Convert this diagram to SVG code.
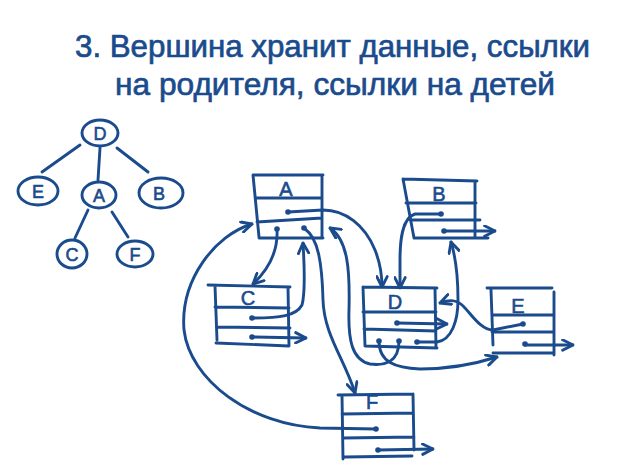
<svg xmlns="http://www.w3.org/2000/svg" width="624" height="469" viewBox="0 0 624 469">
<defs>
<marker id="arr" viewBox="0 0 10 10" refX="9" refY="5" markerWidth="13" markerHeight="13" markerUnits="userSpaceOnUse" orient="auto">
<path d="M1,1 L9,5 L1,9" fill="none" stroke="#1a4b8d" stroke-width="2.2" stroke-linecap="round" stroke-linejoin="round"/>
</marker>
<style>
.ln{fill:none;stroke:#1a4b8d;stroke-width:2.9;stroke-linecap:round;stroke-linejoin:round}
.c{fill:none;stroke:#1a4b8d;stroke-width:2.9;stroke-linecap:round;stroke-linejoin:round;marker-end:url(#arr)}
.dot{fill:#1a4b8d}
.t{font-family:"Liberation Sans","DejaVu Sans",sans-serif;fill:#1a4b8d;stroke:#1a4b8d;stroke-width:0.7}
.lbl{font-family:"Liberation Sans","DejaVu Sans",sans-serif;fill:#1a4b8d;stroke:#1a4b8d;stroke-width:0.6;font-size:20px;text-anchor:middle}
.tl{font-family:"Liberation Sans","DejaVu Sans",sans-serif;fill:#1a4b8d;stroke:#1a4b8d;stroke-width:0.6;font-size:18px;text-anchor:middle}
</style>
</defs>
<rect width="624" height="469" fill="#ffffff"/>
<g id="title">
<text class="t" x="75" y="57" font-size="32" textLength="515" lengthAdjust="spacingAndGlyphs">3. Вершина хранит данные, ссылки</text>
<text class="t" x="115" y="95" font-size="32" textLength="440" lengthAdjust="spacingAndGlyphs">на родителя, ссылки на детей</text>
</g>
<g id="tree">
<g id="tree-edges">
<path class="ln" d="M80,145 L42,172"/>
<path class="ln" d="M100,148 L98,180"/>
<path class="ln" d="M117,148 L148,172"/>
<path class="ln" d="M88,210 L75,238"/>
<path class="ln" d="M112,212 L128,237"/>
</g>
<g id="tD"><ellipse class="ln" cx="100" cy="133" rx="18" ry="13"/><text class="tl" x="100" y="140">D</text></g>
<g id="tE"><ellipse class="ln" cx="38" cy="191" rx="20" ry="14"/><text class="tl" x="38" y="198">E</text></g>
<g id="tA"><ellipse class="ln" cx="99" cy="195" rx="17" ry="13"/><text class="tl" x="99" y="202">A</text></g>
<g id="tB"><ellipse class="ln" cx="161" cy="193" rx="22" ry="15"/><text class="tl" x="159" y="200">B</text></g>
<g id="tC"><ellipse class="ln" cx="72" cy="254" rx="15" ry="14"/><text class="tl" x="72" y="261">C</text></g>
<g id="tF"><ellipse class="ln" cx="135" cy="254" rx="18" ry="13"/><text class="tl" x="135" y="261">F</text></g>
</g>
<g id="A">
<path class="ln" d="M253,175 L323,175 M253,175 L259,237 M322,175 L322,238 M259,238 L323,238 M255,198 L322,198 M257,222 L322,218"/>
<text class="lbl" x="286" y="196">A</text>
<circle class="dot" cx="288" cy="212" r="2.8"/><circle class="dot" cx="277" cy="229" r="2.8"/><circle class="dot" cx="304" cy="228" r="2.8"/>
</g>
<g id="B">
<path class="ln" d="M403,179 L477,181 M403,179 L414,238 M475,181 L475,238 M414,238 L488,238 M406,203 L476,203 M410,220 L480,220"/>
<text class="lbl" x="439" y="201">B</text>
<circle class="dot" cx="441" cy="214" r="2.8"/><circle class="dot" cx="444" cy="231" r="2.8"/>
</g>
<g id="C">
<path class="ln" d="M208,285 L290,287 M215,286 L217,340 M288,287 L289,346 M216,343 L289,346 M215,307 L289,308 M217,327 L290,328"/>
<text class="lbl" x="248" y="305">C</text>
<circle class="dot" cx="252" cy="318" r="2.8"/><circle class="dot" cx="252" cy="337" r="2.8"/>
</g>
<g id="D">
<path class="ln" d="M363,287 L437,288 M363,287 L365,346 M435,288 L436,348 M365,346 L437,348 M363,312 L436,312 M364,329 L436,331"/>
<text class="lbl" x="395" y="309">D</text>
<circle class="dot" cx="397" cy="323" r="2.8"/><circle class="dot" cx="379" cy="341" r="2.8"/><circle class="dot" cx="399" cy="341" r="2.8"/><circle class="dot" cx="417" cy="342" r="2.8"/>
</g>
<g id="E">
<path class="ln" d="M487,288 L552,288 M491,290 L493,345 M554,292 L554,355 M493,353 L553,353 M492,315 L554,315 M492,332 L554,332"/>
<text class="lbl" x="518" y="313">E</text>
<circle class="dot" cx="523" cy="324" r="2.8"/><circle class="dot" cx="525" cy="344" r="2.8"/>
</g>
<g id="F">
<path class="ln" d="M338,395 L413,394 M342,395 L343,459 M413,394 L414,450 M345,457 L412,456 M342,414 L413,413 M343,438 L414,437"/>
<text class="lbl" x="372" y="409">F</text>
<circle class="dot" cx="376" cy="429" r="2.8"/><circle class="dot" cx="378" cy="450" r="2.8"/>
</g>
<g id="connectors">
<path class="c" d="M288,212 L323,210 C345,210 365,225 375,250 C381,265 382,278 382,287"/>
<path class="c" d="M277,230 C278,250 270,268 253,284"/>
<path class="c" d="M305,229 C318,238 322,262 323,300 C324,335 345,360 355,393"/>
<path class="c" d="M252,318 C280,318 296,316 302,305 C306,290 304,260 303,243"/>
<path class="c" d="M252,337 L306,338"/>
<path class="c" d="M376,429 L320,428 C250,425 190,380 184,330 C180,280 215,235 252,224"/>
<path class="c" d="M378,450 L433,449"/>
<path class="c" d="M441,214 L415,214 C402,218 400,240 400,260 L400,288"/>
<path class="c" d="M444,231 L495,231"/>
<path class="c" d="M397,323 L447,324"/>
<path class="c" d="M417,342 L437,342 C452,340 458,320 458,300 C458,275 455,255 451,242"/>
<path class="c" d="M379,341 C379,362 395,368 420,369 C450,369 475,364 497,357"/>
<path class="c" d="M399,341 C399,362 385,366 370,364 C352,360 348,340 349,310 C350,270 348,240 330,228"/>
<path class="c" d="M523,324 L493,330 C480,330 470,312 462,305 C455,299 448,300 440,303"/>
<path class="c" d="M525,345 L573,345"/>
</g>
</svg>
